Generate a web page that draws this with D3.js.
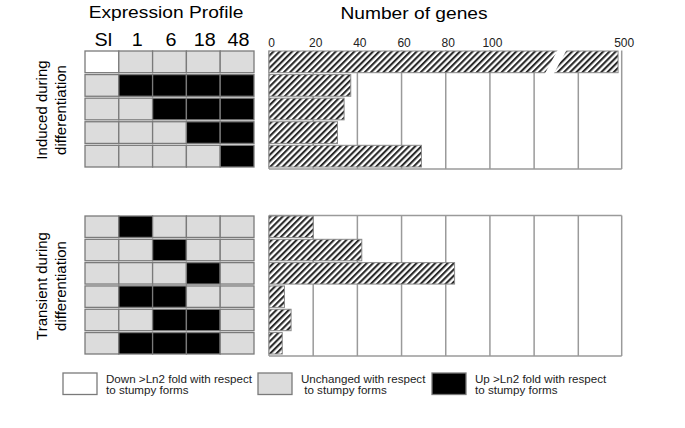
<!DOCTYPE html>
<html lang="en">
<head>
    <meta charset="UTF-8">
    <title>Expression Profile and Number of genes</title>
    <script src="https://d3js.org/d3.v7.min.js"></script>
    <style>
        body { margin: 0; background: #fff; }
        svg { font-family: 'Liberation Sans', Arial, sans-serif; }
        .cell { stroke: #7a7a7a; stroke-width: 1.3px; }
        .grid { stroke: #9a9a9a; stroke-width: 1.5px; }
        .bar { stroke: #8a8a8a; stroke-width: 1px; }
        .tick-label { font-size: 12px; fill: #222; text-anchor: middle; }
        .legend-text { font-size: 11.6px; fill: #222; }
    </style>
</head>
<body>
<div id="chart"></div>
<script>
    // time points of the profile
    const timePoints = ["Sl", "1", "6", "18", "48"];

    // -1 = down, 0 = unchanged, 1 = up (with respect to stumpy forms)
    const inducedProfiles = [
        [-1, 0, 0, 0, 0],
        [0, 1, 1, 1, 1],
        [0, 0, 1, 1, 1],
        [0, 0, 0, 1, 1],
        [0, 0, 0, 0, 1]
    ];
    const inducedCounts = [470, 37, 34, 31, 69];

    const transientProfiles = [
        [0, 1, 0, 0, 0],
        [0, 0, 1, 0, 0],
        [0, 0, 0, 1, 0],
        [0, 1, 1, 0, 0],
        [0, 0, 1, 1, 0],
        [0, 1, 1, 1, 0]
    ];
    const transientCounts = [20, 42, 84, 7, 10, 6];

    const gridValues = [0, 20, 40, 60, 80, 100, 120, 140, 500];
    const tickLabels = [0, 20, 40, 60, 80, 100, 500];

    const legendItems = [
        { code: -1, lines: ["Down >Ln2 fold with respect", "to stumpy forms"] },
        { code: 0, lines: ["Unchanged with respect", " to stumpy forms"] },
        { code: 1, lines: ["Up >Ln2 fold with respect", "to stumpy forms"] }
    ];

    const fillFor = { "-1": "#ffffff", "0": "#dcdcdc", "1": "#000000" };

    const width = 685, height = 428;
    const svg = d3.select("#chart").append("svg")
        .attr("width", width).attr("height", height);

    // hatch pattern
    const pattern = svg.append("defs").append("pattern")
        .attr("id", "hatch")
        .attr("patternUnits", "userSpaceOnUse")
        .attr("width", 4.4).attr("height", 4.4)
        .attr("patternTransform", "rotate(45)");
    pattern.append("rect").attr("width", 4.4).attr("height", 4.4).attr("fill", "#fff");
    pattern.append("rect").attr("width", 2.1).attr("height", 4.4).attr("fill", "#2a2a2a");

    // broken axis: 0-140 linear, then 140 -> 500 squeezed into the last section
    const x = d3.scaleLinear().domain([0, 140, 500]).range([269, 578.3, 621.7]);
    const col = d3.scaleBand().domain(timePoints).range([85, 254]);

    const yTop = d3.scaleBand().domain(d3.range(inducedCounts.length)).range([51, 167]).paddingInner(0.08);
    const yBot = d3.scaleBand().domain(d3.range(transientCounts.length)).range([216, 354]).paddingInner(0.08);

    // wide-ish text like the original figure
    function wideText(xp, yp, size, str) {
        return svg.append("text")
            .attr("transform", `translate(${xp},${yp}) scale(1.13,1)`)
            .attr("text-anchor", "middle")
            .style("font-size", size + "px")
            .text(str);
    }

    wideText(166, 18, 17, "Expression Profile");
    wideText(414, 18.5, 17, "Number of genes");
    timePoints.forEach(t => wideText(col(t) + col.bandwidth() / 2 + 1.5, 45.5, 17.5, t));

    svg.selectAll(".tick-label").data(tickLabels).enter().append("text")
        .attr("class", "tick-label")
        .attr("x", d => x(d) + 2.5)
        .attr("y", 47)
        .text(d => d);

    function drawSection(profiles, counts, y, opts) {
        const g = svg.append("g");
        const top = y.range()[0], bottom = y.range()[1] + 2;

        // profile cells
        profiles.forEach((row, i) => {
            g.selectAll(null).data(row).enter().append("rect")
                .attr("class", "cell")
                .attr("x", (d, j) => col(timePoints[j]))
                .attr("y", y(i))
                .attr("width", col.bandwidth())
                .attr("height", y.bandwidth())
                .attr("fill", d => fillFor[d]);
        });

        // grid
        g.selectAll(".grid").data(gridValues).enter().append("line")
            .attr("class", "grid")
            .attr("x1", d => x(d)).attr("x2", d => x(d))
            .attr("y1", top - 0.5).attr("y2", bottom);
        g.append("line").attr("class", "grid")
            .attr("x1", x(0)).attr("x2", x(500)).attr("y1", bottom).attr("y2", bottom);
        if (opts.topLine) {
            g.append("line").attr("class", "grid")
                .attr("x1", x(0)).attr("x2", x(500)).attr("y1", top - 0.5).attr("y2", top - 0.5);
        }

        // bars
        g.selectAll(".bar").data(counts).enter().append("rect")
            .attr("class", "bar")
            .attr("x", x(0))
            .attr("y", (d, i) => y(i))
            .attr("width", d => x(d) - x(0))
            .attr("height", y.bandwidth())
            .attr("fill", "url(#hatch)");

        // axis break on the long bar
        if (opts.breakAt) {
            const bx = x(opts.breakAt), y0 = y(0) - 2, y1 = y(0) + y.bandwidth() + 2;
            g.append("polygon")
                .attr("points", [[bx + 2, y0], [bx + 11, y0], [bx - 3, y1], [bx - 12, y1]].join(" "))
                .attr("fill", "#fff");
        }

        // side label
        const cy = (top + bottom) / 2;
        opts.label.forEach((t, k) => {
            svg.append("text")
                .attr("transform", `translate(${47 + k * 19},${cy}) rotate(-90)`)
                .attr("text-anchor", "middle")
                .style("font-size", "15px")
                .text(t);
        });
    }

    drawSection(inducedProfiles, inducedCounts, yTop,
        { topLine: false, breakAt: 130, label: ["Induced during", "differentiation"] });
    drawSection(transientProfiles, transientCounts, yBot,
        { topLine: true, label: ["Transient during", "differentiation"] });

    // legend
    const legendX = [63, 258, 432];
    const lg = svg.selectAll(".legend").data(legendItems).enter().append("g")
        .attr("class", "legend")
        .attr("transform", (d, i) => `translate(${legendX[i]},373)`);
    lg.append("rect").attr("class", "cell")
        .attr("width", 34).attr("height", 21.5)
        .attr("fill", d => fillFor[d.code]);
    lg.each(function(d) {
        const t = d3.select(this).append("text").attr("class", "legend-text");
        d.lines.forEach((line, k) => {
            t.append("tspan").attr("x", 43).attr("y", 9.5 + k * 11.5)
                .attr("xml:space", "preserve").text(line);
        });
    });
</script>
</body>
</html>
